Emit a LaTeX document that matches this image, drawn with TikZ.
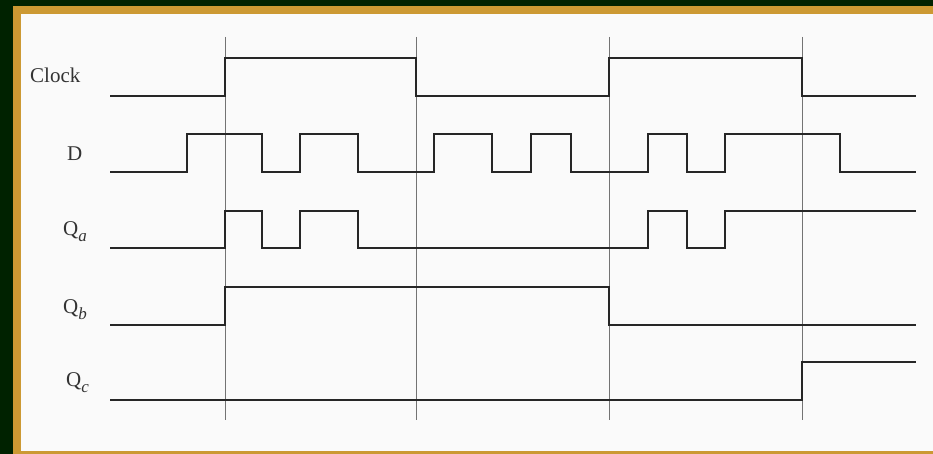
\documentclass[tikz,border=0pt]{standalone}
\usepackage{fontspec}
\setmainfont{Liberation Serif}
\usepackage{tikz}
\usetikzlibrary{positioning}
\definecolor{framegreen}{RGB}{0,34,0}
\definecolor{framegold}{RGB}{204,153,51}
\definecolor{paperbg}{RGB}{250,250,250}
\colorlet{gridgray}{black!55}
\newcommand{\sig}[2]{Q\raisebox{-.3em}{\fontsize{17}{17}\selectfont\itshape #2}}

\begin{document}
\begin{tikzpicture}[x=1pt,y=-1pt,
    every node/.style={font=\fontsize{21}{21}\selectfont,inner sep=0pt,anchor=base west,text=black!80},
    wave/.style={line width=2.3pt,black!85,line join=miter},
    clockgrid/.style={line width=.8pt,gridgray}]
  % frame and paper
  \useasboundingbox (0,0) rectangle (933,454);
  \fill[framegreen] (0,0) rectangle (933,454);
  \fill[framegold] (13,6) rectangle (933,454);
  \fill[paperbg] (21,14) rectangle (933,451);
  % clock edges
  \foreach \t in {225,416,609,802}
    \draw[clockgrid] (\t,37) -- (\t,420);
  % labels
  \node (clk) at (30,83) {Clock};
  \node (d) at (67,161) {D};
  \node (qa) at (63,235) {\sig{Q}{a}};
  \node (qb) at (63,313) {\sig{Q}{b}};
  \node (qc) at (66,386) {\sig{Q}{c}};
  % waveforms
  \draw[wave] (110,96) -- (225,96) -- (225,58) -- (416,58) -- (416,96) -- (609,96)
    -- (609,58) -- (802,58) -- (802,96) -- (916,96);
  \draw[wave] (110,172) -- (187,172) -- (187,134) -- (262,134) -- (262,172) -- (300,172)
    -- (300,134) -- (358,134) -- (358,172) -- (434,172) -- (434,134) -- (492,134)
    -- (492,172) -- (531,172) -- (531,134) -- (571,134) -- (571,172) -- (648,172)
    -- (648,134) -- (687,134) -- (687,172) -- (725,172) -- (725,134) -- (840,134)
    -- (840,172) -- (916,172);
  \draw[wave] (110,248) -- (225,248) -- (225,211) -- (262,211) -- (262,248) -- (300,248)
    -- (300,211) -- (358,211) -- (358,248) -- (648,248) -- (648,211) -- (687,211)
    -- (687,248) -- (725,248) -- (725,211) -- (916,211);
  \draw[wave] (110,325) -- (225,325) -- (225,287) -- (609,287) -- (609,325) -- (916,325);
  \draw[wave] (110,400) -- (802,400) -- (802,362) -- (916,362);
\end{tikzpicture}
\end{document}
